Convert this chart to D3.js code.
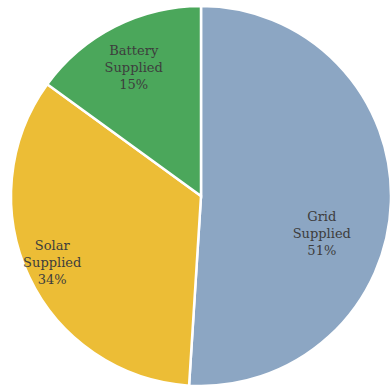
<!DOCTYPE html>
<html>
<head>
<style>
  body { margin: 0; background: #fff; }
  .lbl { font-family: "DejaVu Serif", serif; font-size: 13px; fill: #3d3d3d; text-anchor: middle; }
</style>
</head>
<body>
<svg width="390" height="390"></svg>
<script src="https://d3js.org/d3.v7.min.js"></script>
<script>
// data
const names = ["Grid", "Solar", "Battery"];
const shares = [51, 34, 15];
const colors = ["#8ca6c3", "#ecbd36", "#4ba75b"];

const svg = d3.select("svg");
const cx = 201, cy = 196, radius = 190;

const pie = d3.pie().sort(null).value(d => d.value);
const arcs = pie(names.map((n, i) => ({ name: n, value: shares[i], color: colors[i] })));

const arc = d3.arc().innerRadius(0).outerRadius(radius);

const g = svg.append("g").attr("transform", `translate(${cx},${cy})`);

g.selectAll("path")
  .data(arcs)
  .enter()
  .append("path")
    .attr("d", arc)
    .attr("fill", d => d.data.color)
    .attr("stroke", "#fff")
    .attr("stroke-width", 2.5);

// label placement: radius fraction and angle nudge (radians) per slice
const labelR = [0.66, 0.85, 0.78];
const labelTurn = [0.24, 0.04, 0.0];

const labels = g.selectAll("text.lbl")
  .data(arcs)
  .enter()
  .append("text")
    .attr("class", "lbl")
    .attr("transform", (d, i) => {
      const a = (d.startAngle + d.endAngle) / 2 + labelTurn[i];
      const r = radius * labelR[i];
      return `translate(${r * Math.sin(a)},${-r * Math.cos(a)})`;
    });

labels.each(function(d) {
  const t = d3.select(this);
  const lines = [d.data.name, "Supplied", d.data.value + "%"];
  lines.forEach((s, k) => {
    t.append("tspan").attr("x", 0).attr("dy", k === 0 ? "-1.0em" : "1.32em").text(s);
  });
  t.attr("dominant-baseline", "middle");
});
</script>
</body>
</html>
